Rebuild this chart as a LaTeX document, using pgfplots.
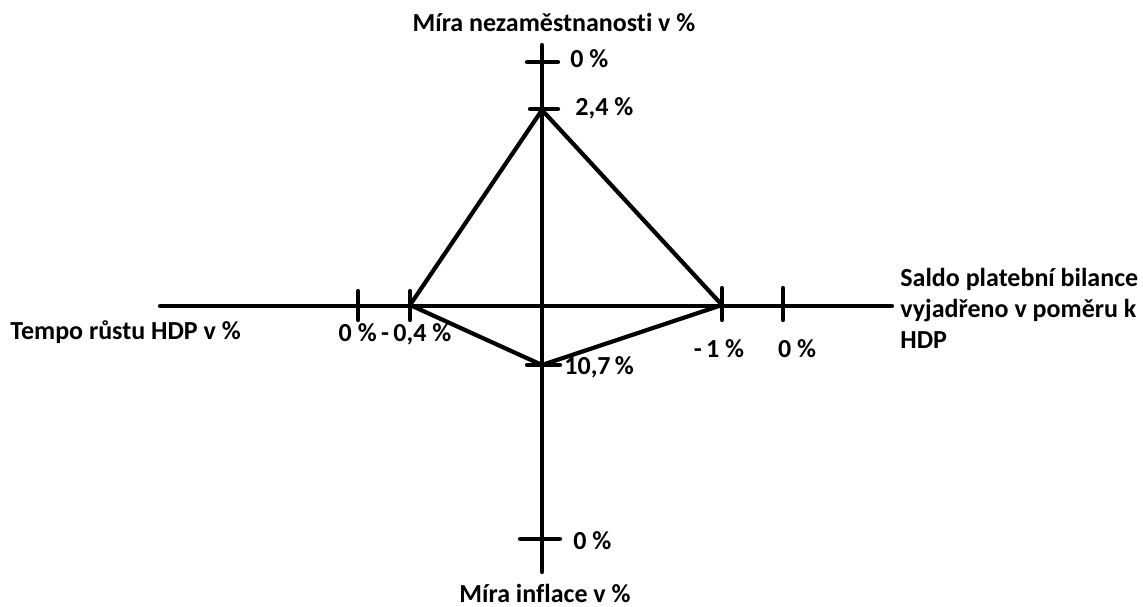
\documentclass[border=0pt]{standalone}
\usepackage{pgfplots}
\pgfplotsset{compat=1.18}
\usepackage{fontspec}
\setmainfont[Ligatures=NoCommon]{Carlito}
\begin{document}
\begin{tikzpicture}[lbl/.style={font=\fontsize{13}{15.5}\selectfont\bfseries, inner sep=0pt}]
\begin{axis}[
  scale only axis, width=571.5pt, height=303pt,
  xmin=0, xmax=1143, ymin=0, ymax=606, y dir=reverse,
  axis lines=none, clip=false,
]
% axes
\addplot[black, line width=2.1pt, line cap=round] coordinates {(160,306) (892,306)};
\addplot[black, line width=2.1pt, line cap=round] coordinates {(542,45) (542,572)};
% ticks vertical axis
\addplot[black, line width=2.1pt, line cap=round] coordinates {(527,62) (558,62)};
\addplot[black, line width=2.1pt, line cap=round] coordinates {(530,109) (558,109)};
\addplot[black, line width=2.1pt, line cap=round] coordinates {(527,365) (560,365)};
\addplot[black, line width=2.1pt, line cap=round] coordinates {(520,539) (560,539)};
% ticks horizontal axis
\addplot[black, line width=2.1pt, line cap=round] coordinates {(358,291) (358,320)};
\addplot[black, line width=2.1pt, line cap=round] coordinates {(410,291) (410,320)};
\addplot[black, line width=2.1pt, line cap=round] coordinates {(722,288) (722,320)};
\addplot[black, line width=2.1pt, line cap=round] coordinates {(783,288) (783,320)};
% polygon
\addplot[black, line width=2.1pt, line join=round] coordinates {(542,110) (722,305) (542,365) (410,305) (542,110)};
% labels
\node[lbl, anchor=west] at (axis cs:570,59) {0 \%};
\node[lbl, anchor=west] at (axis cs:575,108) {2,4 \%};
\node[lbl, anchor=west] at (axis cs:564,367) {10,7\,\%};
\node[lbl, anchor=west] at (axis cs:573,541) {0 \%};
\node[lbl] at (axis cs:395,334) {0 \%\,-\,0,4 \%};
\node[lbl] at (axis cs:719,349) {-\,1 \%};
\node[lbl] at (axis cs:797,349) {0 \%};
\node[lbl, anchor=west] at (axis cs:10,332) {Tempo růstu HDP v \%};
\node[lbl, anchor=west, align=left] at (axis cs:900,308) {Saldo platební bilance\\vyjadřeno v poměru k\\HDP};
\node[lbl] at (axis cs:554,22) {Míra nezaměstnanosti v \%};
\node[lbl] at (axis cs:545,593) {Míra inflace v \%};
\end{axis}
\pgfresetboundingbox
\useasboundingbox (0,0) rectangle (571.5pt,303pt);
\end{tikzpicture}
\end{document}
